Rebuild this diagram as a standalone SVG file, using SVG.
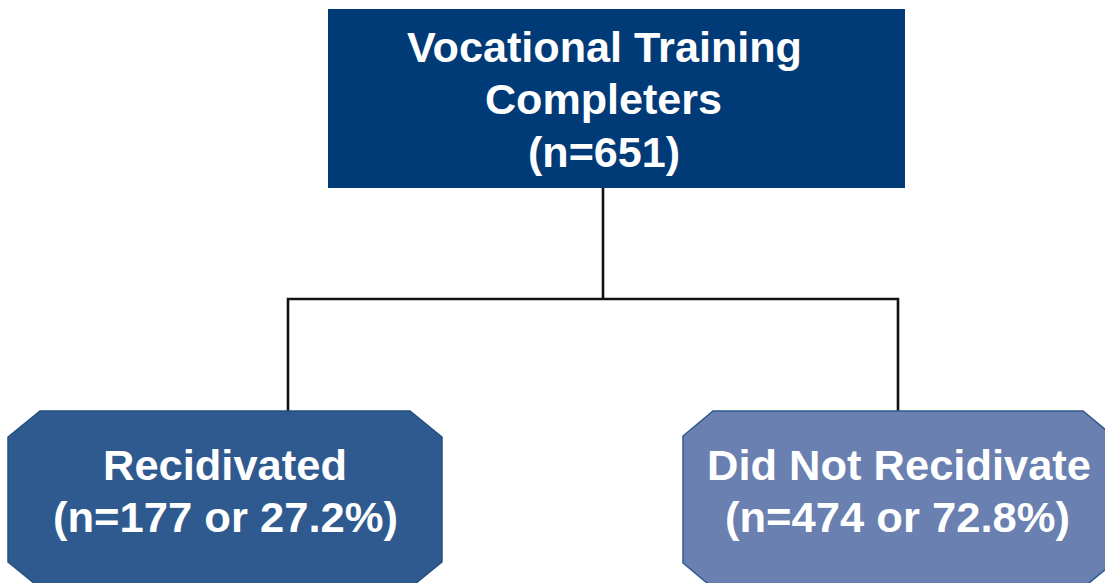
<svg xmlns="http://www.w3.org/2000/svg" width="1105" height="583" viewBox="0 0 1105 583">
<style>
.lbl{font-family:"Liberation Sans",Arial,sans-serif;font-weight:bold;font-size:43px;fill:#ffffff;text-anchor:middle}
.conn{fill:none;stroke:#111111;stroke-width:2.6;stroke-linejoin:miter}
</style>
<rect width="1105" height="583" fill="#ffffff"/>
<g id="connectors">
<path class="conn" d="M603,188 V299"/>
<path class="conn" d="M288,411 V299 H898 V411"/>
</g>
<g id="node-completers">
<rect x="328" y="9" width="577" height="179" fill="#003B78"/>
<text class="lbl" x="604.5" y="62" textLength="395" lengthAdjust="spacingAndGlyphs">Vocational Training</text>
<text class="lbl" x="603.5" y="114" textLength="237" lengthAdjust="spacingAndGlyphs">Completers</text>
<text class="lbl" x="604" y="167" textLength="152" lengthAdjust="spacingAndGlyphs">(n=651)</text>
</g>
<g id="node-recidivated">
<polygon points="40,411 410,411 442,437 442,562 410,588 40,588 8,562 8,437" fill="#2F5A8F" stroke="#23507F" stroke-width="1.5"/>
<text class="lbl" x="225" y="480" textLength="244" lengthAdjust="spacingAndGlyphs">Recidivated</text>
<text class="lbl" x="225.5" y="532" textLength="345" lengthAdjust="spacingAndGlyphs">(n=177 or 27.2%)</text>
</g>
<g id="node-not-recidivated">
<polygon points="713,411 1083,411 1113,436 1113,563 1083,588 713,588 683,563 683,436" fill="#6A80B0" stroke="#2F5A8F" stroke-width="1.5"/>
<text class="lbl" x="899" y="480" textLength="384" lengthAdjust="spacingAndGlyphs">Did Not Recidivate</text>
<text class="lbl" x="897.5" y="532" textLength="345" lengthAdjust="spacingAndGlyphs">(n=474 or 72.8%)</text>
</g>
</svg>
